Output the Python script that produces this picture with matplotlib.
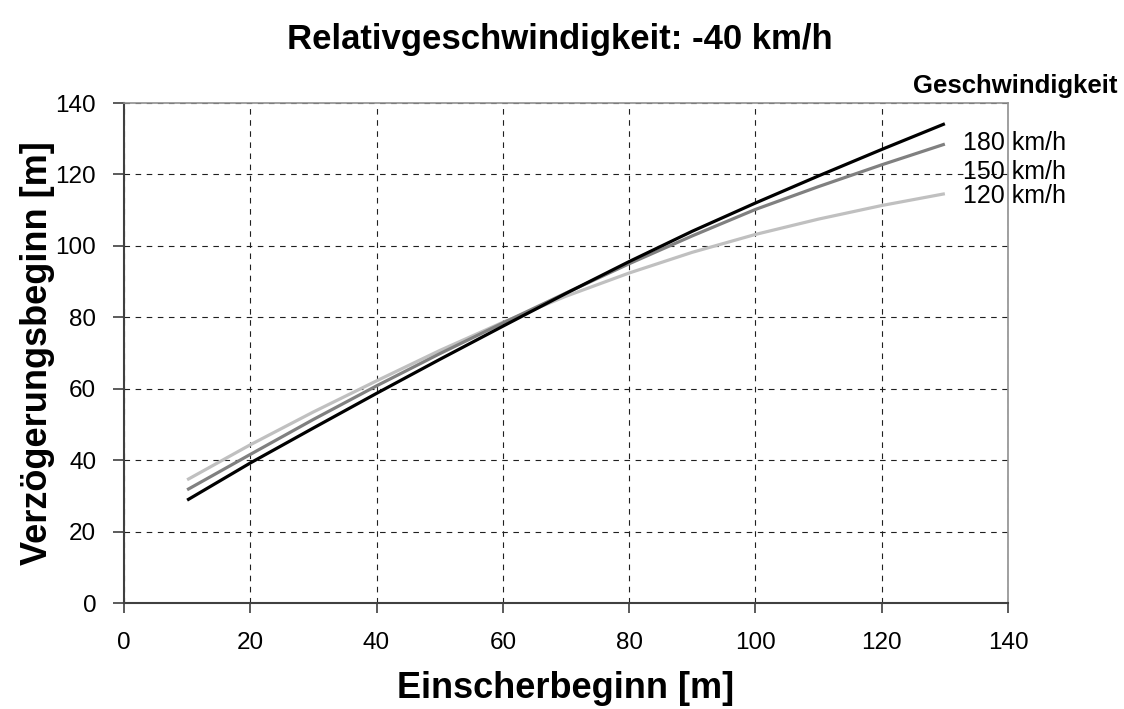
import matplotlib
matplotlib.use("Agg")
import matplotlib.pyplot as plt

plt.rcParams['font.family'] = ['Liberation Sans', 'DejaVu Sans']

# Einscherbeginn [m]
x = [10, 20, 30, 40, 50, 60, 70, 80, 90, 100, 110, 120, 130]
# Verzögerungsbeginn [m] je Geschwindigkeit
v180 = [28.8, 39.2, 49.0, 58.7, 68.2, 77.5, 86.7, 95.6, 104.1, 112.0, 119.6, 127.0, 134.2]
v150 = [31.7, 41.6, 51.4, 60.8, 69.8, 78.4, 86.8, 95.0, 102.8, 110.2, 116.6, 122.7, 128.5]
v120 = [34.5, 44.3, 53.5, 62.2, 70.7, 78.6, 85.9, 92.4, 98.2, 103.2, 107.5, 111.3, 114.6]

series = [('120 km/h', v120, '#c0c0c0'),
          ('150 km/h', v150, '#808080'),
          ('180 km/h', v180, '#000000')]
label_y = {'180 km/h': 128.7, '150 km/h': 120.6, '120 km/h': 114.0}

fig = plt.figure(figsize=(11.24, 7.09), dpi=100)
ax = fig.add_axes([0.1103, 0.1495, 0.7865, 0.7052])

for name, vals, col in series:
    ax.plot(x, vals, color=col, lw=2.3, solid_capstyle='butt')
    ax.text(132.8, label_y[name], name, fontsize=18, va='center', ha='left')

ax.set_xlim(0, 140)
ax.set_ylim(0, 140)
ax.set_xticks(range(0, 141, 20))
ax.set_yticks(range(0, 141, 20))
ax.grid(True, color='#202020', linestyle=(0, (5, 5)), lw=0.8)
ax.tick_params(labelsize=17.5, width=1.2, color='#404040', direction='out')
ax.tick_params(axis='x', length=7, pad=14)
ax.tick_params(axis='y', length=8, pad=12)
for side in ['left', 'bottom']:
    ax.spines[side].set_color('#404040')
    ax.spines[side].set_linewidth(1.5)
for side in ['top', 'right']:
    ax.spines[side].set_color('#909090')
    ax.spines[side].set_linewidth(1.2)

ax.set_xlabel('Einscherbeginn [m]', fontsize=26, fontweight='bold', labelpad=12)
ax.set_ylabel('Verzögerungsbeginn [m]', fontsize=26, fontweight='bold', labelpad=0)
fig.text(0.498, 0.944, 'Relativgeschwindigkeit: -40 km/h', fontsize=25,
         fontweight='bold', ha='center', va='center')
fig.text(0.9946, 0.878, 'Geschwindigkeit', fontsize=18.5, fontweight='bold',
         ha='right', va='center')

fig.savefig('out.png', dpi=100)
